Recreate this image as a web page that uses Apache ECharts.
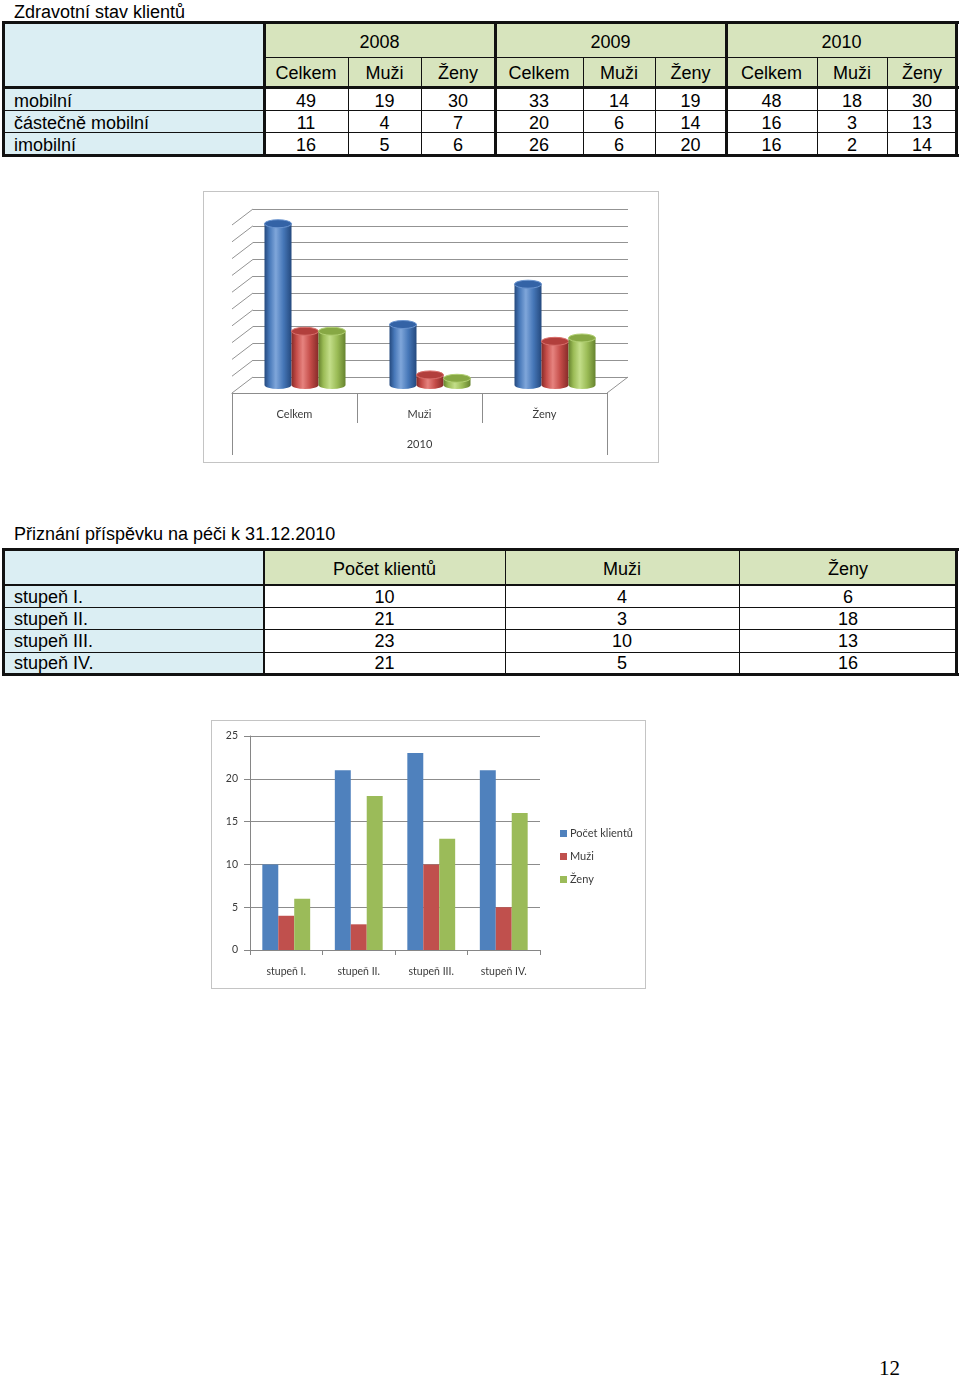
<!DOCTYPE html>
<html><head><meta charset="utf-8">
<script src="https://cdn.jsdelivr.net/npm/echarts@6/dist/echarts.min.js"></script>
<style>
body{margin:0;width:960px;height:1378px;position:relative;background:#fff;overflow:hidden;font-family:"Liberation Sans",Arial,sans-serif;}
.a{position:absolute;box-sizing:border-box;}
.t{position:absolute;box-sizing:border-box;font-size:18px;color:#000;white-space:nowrap;display:flex;align-items:center;}
</style></head><body>
<div class="a" style="left:203px;top:191px;width:456px;height:272px;border:1px solid #c4c4c4;"></div>
<div id="c1" class="a" style="left:203px;top:191px;width:456px;height:272px;"></div>
<div class="a" style="left:211px;top:720px;width:435px;height:269px;border:1px solid #c4c4c4;"></div>
<div id="c2" class="a" style="left:211px;top:720px;width:435px;height:269px;"></div>
<script>
// ---------------- data ----------------
const table1Title = 'Zdravotní stav klientů';
const years = ['2008', '2009', '2010'];
const subCols = ['Celkem', 'Muži', 'Ženy'];
const healthRows = ['mobilní', 'částečně mobilní', 'imobilní'];
const mobilni = [49, 19, 30, 33, 14, 19, 48, 18, 30];
const castecneMobilni = [11, 4, 7, 20, 6, 14, 16, 3, 13];
const imobilni = [16, 5, 6, 26, 6, 20, 16, 2, 14];
const chart1Year = '2010';
const axis3dTicks = [0, 5, 10, 15, 20, 25, 30, 35, 40, 45, 50];

const table2Title = 'Přiznání příspěvku na péči k 31.12.2010';
const stupne = ['stupeň I.', 'stupeň II.', 'stupeň III.', 'stupeň IV.'];
const careCols = ['Počet klientů', 'Muži', 'Ženy'];
const pocetKlientu = [10, 21, 23, 21];
const muzi = [4, 3, 10, 5];
const zeny = [6, 18, 13, 16];
const pageNumber = '12';

// ---------------- HTML tables ----------------
const page = document.body;
function box(x, y, w, h, bg) {
  const d = document.createElement('div'); d.className = 'a';
  d.style.cssText = `left:${x}px;top:${y}px;width:${w}px;height:${h}px;background:${bg};`;
  page.appendChild(d); return d;
}
function txt(x, y, w, h, s, center, extra) {
  const d = document.createElement('div'); d.className = 't';
  d.style.cssText = `left:${x}px;top:${y}px;width:${w}px;height:${h}px;justify-content:${center ? 'center' : 'flex-start'};` + (extra || '');
  d.textContent = s; page.appendChild(d);
}
const BLUE_BG = '#DBEEF3', GREEN_BG = '#D7E4BD', LINE = '#111';

// Table 1
(function () {
  const X = [3, 264, 348, 421, 495, 583, 655, 726, 817, 887, 957];
  const rowTop = [90.5, 112.5, 134], rowH = [21, 21, 22];
  box(3, 22, 261, 134, BLUE_BG);
  box(264, 22, 693, 66, GREEN_BG);
  box(264, 88, 693, 68, '#fff');
  [2, 3, 5, 6, 8, 9].forEach(i => box(X[i], 57, 1, 99, LINE));
  box(264, 57, 693, 1, LINE);
  box(3, 110, 954, 1, LINE);
  box(3, 132, 954, 1, LINE);
  box(2, 21, 957, 3, LINE); box(2, 154, 957, 3, LINE);
  box(2, 21, 3, 136, LINE); box(955, 21, 3, 136, LINE);
  [264, 495, 726].forEach(x => box(x - 1, 21, 3, 136, LINE));
  box(2, 86, 957, 3, LINE);
  txt(14, 1, 400, 22, table1Title, false);
  years.forEach((y, i) => txt(X[1 + 3 * i], 25.5, X[4 + 3 * i] - X[1 + 3 * i], 33, y, true));
  for (let j = 1; j <= 9; j++) txt(X[j], 59, X[j + 1] - X[j], 29, subCols[(j - 1) % 3], true);
  const rows = [mobilni, castecneMobilni, imobilni];
  rows.forEach((vals, r) => {
    txt(14, rowTop[r], 240, rowH[r], healthRows[r], false);
    vals.forEach((v, j) => txt(X[j + 1], rowTop[r], X[j + 2] - X[j + 1], rowH[r], String(v), true));
  });
})();

// Table 2
(function () {
  const X = [3, 264, 505, 739, 957];
  const rowTop = [587, 609, 630.5, 653], rowH = [21, 21, 22, 20];
  box(3, 549, 261, 126, BLUE_BG);
  box(264, 549, 693, 36, GREEN_BG);
  box(264, 585, 693, 90, '#fff');
  [505, 739].forEach(x => box(x, 549, 1, 126, LINE));
  [607, 629, 652].forEach(y => box(3, y, 954, 1, LINE));
  box(2, 584, 956, 2, LINE); box(263, 549, 2, 126, LINE);
  box(2, 548, 957, 3, LINE); box(2, 673, 957, 3, LINE);
  box(2, 548, 3, 128, LINE); box(955, 548, 3, 128, LINE);
  txt(14, 523, 500, 22, table2Title, false);
  careCols.forEach((c, j) => txt(X[j + 1], 552, X[j + 2] - X[j + 1], 34, c, true));
  const cols = [pocetKlientu, muzi, zeny];
  stupne.forEach((s, r) => {
    txt(14, rowTop[r], 240, rowH[r], s, false);
    cols.forEach((vals, j) => txt(X[j + 1], rowTop[r], X[j + 2] - X[j + 1], rowH[r], String(vals[r]), true));
  });
  txt(879, 1356, 40, 24, pageNumber, false, 'font-family:"Liberation Serif","Times New Roman",serif;font-size:21px;');
})();

// ---------------- Chart 1 : 3D cylinders ----------------
const FONT = 'Lato';
const LABEL_COLOR = '#3a3a3a';
const DEPTH = [21, -16]; // front -> back offset
const yi = years.indexOf(chart1Year);
const chart1Series = [mobilni, castecneMobilni, imobilni].map(a => a.slice(yi * 3, yi * 3 + 3));
const palettes = [
  { edge: '#24497e', mid: '#4677b8', hi: '#7fa6da', top: '#3463a6', rim: '#6a94cf' },
  { edge: '#862b28', mid: '#c44c48', hi: '#e6837f', top: '#b23f3c', rim: '#d96f6b' },
  { edge: '#66832e', mid: '#9abb55', hi: '#c3de89', top: '#87a844', rim: '#b1cf72' }
];
function cylRender(sIdx) {
  const p = palettes[sIdx];
  return function (params, api) {
    const cat = api.value(0), v = api.value(1);
    const top = api.coord([cat, v]), base = api.coord([cat, 0]);
    const band = api.size([1, 0])[0];
    const w = band * 0.216, r = w / 2, ry = 4;
    const cx = top[0] + (sIdx - 1) * w - DEPTH[0] / 2;
    const yT = top[1] - DEPTH[1] / 2, yB = base[1] - DEPTH[1] / 2;
    const grad = new echarts.graphic.LinearGradient(0, 0, 1, 0, [
      { offset: 0, color: p.edge }, { offset: 0.18, color: p.mid }, { offset: 0.42, color: p.hi },
      { offset: 0.7, color: p.mid }, { offset: 1, color: p.edge }
    ]);
    const body = `M${cx - r},${yT} L${cx - r},${yB} A${r},${ry} 0 0 0 ${cx + r},${yB} L${cx + r},${yT} Z`;
    const cap = `M${cx - r},${yT} A${r},${ry} 0 1 0 ${cx + r},${yT} A${r},${ry} 0 1 0 ${cx - r},${yT} Z`;
    return {
      type: 'group', children: [
        { type: 'path', shape: { pathData: body }, style: { fill: grad } },
        { type: 'path', shape: { pathData: cap }, style: { fill: p.top, stroke: p.rim, lineWidth: 1 } }
      ]
    };
  };
}
const c1 = echarts.init(document.getElementById('c1'));
c1.setOption({
  animation: false,
  textStyle: { fontFamily: FONT },
  grid: [
    { left: 50, top: 18, width: 375, height: 168 },
    { left: 29, top: 34, width: 375, height: 168 }
  ],
  xAxis: [
    { gridIndex: 0, type: 'category', data: subCols, show: false },
    {
      gridIndex: 1, type: 'category', data: subCols, position: 'bottom',
      axisLine: { show: true, lineStyle: { color: '#8c8c8c' } },
      axisTick: { show: true, interval: 0, alignWithLabel: false, length: 30, lineStyle: { color: '#8c8c8c' } },
      axisLabel: { fontSize: 11, color: LABEL_COLOR, margin: 16 }
    },
    {
      gridIndex: 1, type: 'category', data: [chart1Year], position: 'bottom', offset: 30,
      axisLine: { show: false },
      axisTick: { show: true, interval: 0, alignWithLabel: false, length: 32, lineStyle: { color: '#8c8c8c' } },
      axisLabel: { fontSize: 11, color: LABEL_COLOR, margin: 16 }
    }
  ],
  yAxis: [
    {
      gridIndex: 0, type: 'value', min: 0, max: 50, interval: 5,
      axisLabel: { show: false }, axisLine: { show: false }, axisTick: { show: false },
      splitLine: { show: true, lineStyle: { color: '#939393', width: 1 } }
    },
    { gridIndex: 1, type: 'value', min: 0, max: 50, interval: 5, show: false, splitLine: { show: false } }
  ],
  series: [
    {
      type: 'custom', silent: true, xAxisIndex: 0, yAxisIndex: 0, z: 1,
      data: axis3dTicks.map(t => [0, t]),
      renderItem: function (params, api) {
        const v = api.value(1);
        const y = api.coord([0, v])[1];
        const cs = params.coordSys;
        const lines = [{ type: 'line', shape: { x1: cs.x, y1: y, x2: cs.x - DEPTH[0], y2: y - DEPTH[1] }, style: { stroke: '#939393', lineWidth: 1 } }];
        if (v === 0) {
          const xr = cs.x + cs.width;
          lines.push({ type: 'line', shape: { x1: xr, y1: y, x2: xr - DEPTH[0], y2: y - DEPTH[1] }, style: { stroke: '#939393', lineWidth: 1 } });
        }
        return { type: 'group', children: lines };
      }
    }
  ].concat(chart1Series.map((vals, s) => ({
    type: 'custom', name: healthRows[s], silent: true, xAxisIndex: 0, yAxisIndex: 0, z: 3,
    data: vals.map((v, i) => [i, v]),
    renderItem: cylRender(s)
  })))
});

// ---------------- Chart 2 : bars ----------------
const c2 = echarts.init(document.getElementById('c2'));
const barColors = ['#4F81BD', '#C0504D', '#9BBB59'];
c2.setOption({
  animation: false,
  textStyle: { fontFamily: FONT },
  grid: { left: 39, top: 16, width: 290, height: 214 },
  legend: {
    orient: 'vertical', left: 349, top: 108, padding: 0, itemWidth: 7, itemHeight: 7, itemGap: 12,
    icon: 'rect', textStyle: { fontSize: 11, color: LABEL_COLOR, padding: [0, 0, 0, -2] }, data: careCols
  },
  xAxis: {
    type: 'category', data: stupne,
    axisLine: { show: true, lineStyle: { color: '#868686' } },
    axisTick: { show: true, interval: 0, alignWithLabel: false, length: 5, lineStyle: { color: '#868686' } },
    axisLabel: { fontSize: 10.5, color: LABEL_COLOR, margin: 16 }
  },
  yAxis: {
    type: 'value', min: 0, max: 25, interval: 5,
    axisLine: { show: true, lineStyle: { color: '#868686' } },
    axisTick: { show: true, length: 6, lineStyle: { color: '#868686' } },
    axisLabel: { fontSize: 10.5, color: LABEL_COLOR, margin: 12 },
    splitLine: { show: true, lineStyle: { color: '#8c8c8c' } }
  },
  series: [pocetKlientu, muzi, zeny].map((vals, i) => ({
    type: 'bar', name: careCols[i], data: vals, barGap: 0, barCategoryGap: '34%',
    itemStyle: { color: barColors[i] }, silent: true
  }))
});
</script>
</body></html>
